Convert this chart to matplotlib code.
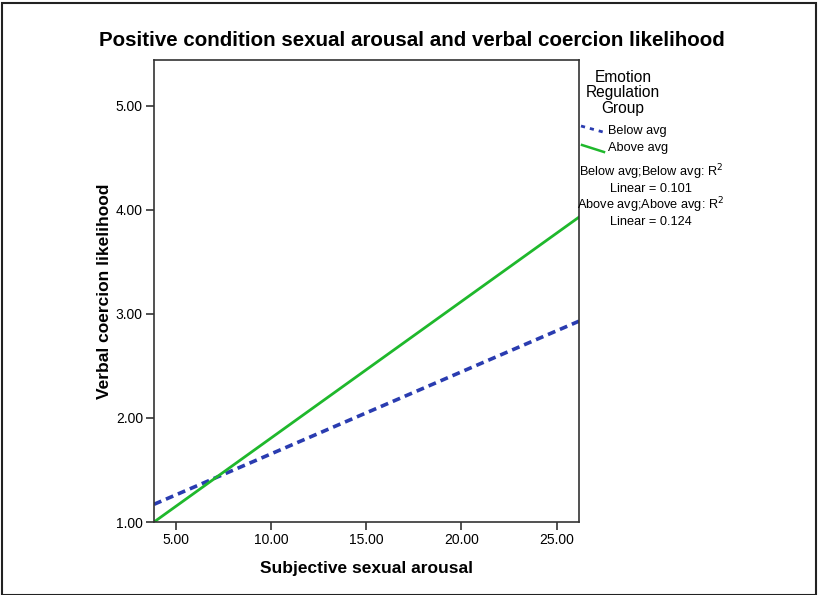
import matplotlib.pyplot as plt
from matplotlib.lines import Line2D
from matplotlib.patches import Rectangle

plt.rcParams['font.family'] = ['Liberation Sans', 'DejaVu Sans']

# fitted line end points
arousal = [3.86, 26.17]
below_avg = [1.17, 2.93]
above_avg = [1.0, 3.93]

x_ticks = [5, 10, 15, 20, 25]
y_ticks = [1, 2, 3, 4, 5]
r2_below = 0.101
r2_above = 0.124

blue = '#2a3cb0'
green = '#1fb82c'

fig = plt.figure(figsize=(8.18, 5.95), dpi=100)
ax = fig.add_axes([154/818, 1 - 522/595, (579-154)/818, (522-60)/595])

ax.plot(arousal, below_avg, color=blue, lw=2.6, dashes=(2.2, 1.4))
ax.plot(arousal, above_avg, color=green, lw=2.0)

ax.set_xlim(3.86, 26.17)
ax.set_ylim(1.0, 5.44)
ax.set_xticks(x_ticks)
ax.set_yticks(y_ticks)
ax.set_xticklabels([f'{t:.2f}' for t in x_ticks], fontsize=10)
ax.set_yticklabels([f'{t:.2f}' for t in y_ticks], fontsize=10)
ax.tick_params(direction='out', length=6, width=1.2, color='#333333', pad=2)
for s in ax.spines.values():
    s.set_color('#333333')
    s.set_linewidth(1.2)

ax.set_xlabel('Subjective sexual arousal', fontsize=12.5, fontweight='bold', labelpad=10)
ax.set_ylabel('Verbal coercion likelihood', fontsize=12.5, fontweight='bold', labelpad=3)
fig.text(412/818, 1 - 40/595, 'Positive condition sexual arousal and verbal coercion likelihood',
         ha='center', va='center', fontsize=14.8, fontweight='bold')

# legend, drawn at the right of the plot
fig.text(623/818, 1 - 93/595, 'Emotion\nRegulation\nGroup', ha='center', va='center',
         fontsize=11.2, linespacing=1.0)
fig.add_artist(Line2D([581/818, 603/818], [1 - 126/595, 1 - 132/595], color=blue,
                      lw=2.0, dashes=(1.5, 1.8), transform=fig.transFigure))
fig.add_artist(Line2D([582/818, 604/818], [1 - 145/595, 1 - 152/595], color=green,
                      lw=1.8, transform=fig.transFigure))
fig.text(608/818, 1 - 131/595, 'Below avg', ha='left', va='center', fontsize=9.2)
fig.text(608/818, 1 - 148/595, 'Above avg', ha='left', va='center', fontsize=9.2)
fig.text(651/818, 1 - 179/595, f'Below avg;Below avg: R$^2$\nLinear = {r2_below}',
         ha='center', va='center', fontsize=9.2, linespacing=1.15)
fig.text(651/818, 1 - 212/595, f'Above avg;Above avg: R$^2$\nLinear = {r2_above}',
         ha='center', va='center', fontsize=9.2, linespacing=1.15)

fig.add_artist(Rectangle((0.003, 0.0), 0.994, 0.995, fill=False, edgecolor='#222222',
                         lw=1.5, transform=fig.transFigure))

fig.savefig('out.png', dpi=100)
